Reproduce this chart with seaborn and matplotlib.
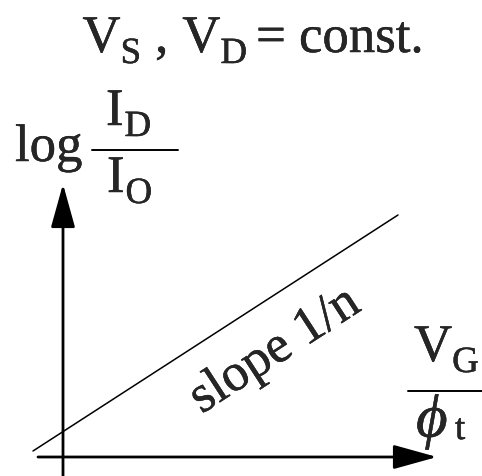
import matplotlib
matplotlib.use("Agg")
import matplotlib.pyplot as plt
import matplotlib.transforms as mtransforms
import matplotlib.patheffects as pe
import seaborn as sns
import pandas as pd

# Subthreshold characteristic: log(I_D/I_O) rises linearly with V_G/phi_t
line_x = [-30, 335]
line_y = [6, 242]

slope_text = "slope 1/n"

sns.set_theme(style="white")
plt.rcParams["font.family"] = ["Liberation Serif", "DejaVu Serif"]
plt.rcParams["mathtext.fontset"] = "custom"
plt.rcParams["mathtext.rm"] = "Liberation Serif"
plt.rcParams["mathtext.it"] = "Liberation Serif:italic"

fig = plt.figure(figsize=(4.82, 4.77), dpi=100)
ax = fig.add_axes([0, 0, 1, 1])
ax.set_xlim(-63, 419)
ax.set_ylim(-19, 458)
ax.axis("off")
renderer = fig.canvas.get_renderer()

# slightly heavier glyph strokes
heavy = [pe.withStroke(linewidth=0.3, foreground="black")]


def runs_text(x, y, runs, fs, sub_scale=0.7, sub_drop=11, ha="left"):
    """Write a label made of normal and subscript pieces.

    runs: list of (text, is_subscript, gap_before_px)."""
    items = []
    cursor = 0.0
    for s, sub, gap in runs:
        cursor += gap
        size = fs * sub_scale if sub else fs
        dy = -sub_drop if sub else 0
        t = ax.text(x, y, s, fontsize=size, ha="left", va="baseline",
                    path_effects=heavy)
        t.set_transform(mtransforms.offset_copy(ax.transData, fig=fig,
                                                x=cursor, y=dy, units="dots"))
        w = t.get_window_extent(renderer).width
        items.append((t, cursor, dy))
        cursor += w
    if ha == "center":
        shift = -cursor / 2
        for t, cx, dy in items:
            t.set_transform(mtransforms.offset_copy(ax.transData, fig=fig,
                                                    x=cx + shift, y=dy, units="dots"))
    return items


# characteristic line
df = pd.DataFrame({"x": line_x, "y": line_y})
sns.lineplot(data=df, x="x", y="y", color="black", linewidth=1.1, ax=ax)

# axes with arrow heads
arrow = dict(arrowstyle="-|>,head_length=2.7,head_width=0.75", mutation_scale=10,
             lw=2.0, color="black", fc="black", shrinkA=0, shrinkB=0)
ax.annotate("", xy=(0, 273), xytext=(0, -19), arrowprops=arrow)
ax.annotate("", xy=(374, 0), xytext=(-25, 0), arrowprops=arrow)

fs = 38

# title
runs_text(190, 405, [("V", False, 0), ("S", True, 0), (",", False, 14),
                     ("V", False, 14), ("D", True, 0), ("= const.", False, 9)],
          fs=38, ha="center")

# y-axis label: log I_D / I_O
ax.text(-48, 296, "log", fontsize=fs, ha="left", va="baseline", path_effects=heavy)
ax.plot([29, 115], [307, 307], color="black", lw=1.4)
runs_text(43, 332, [("I", False, 0), ("D", True, 1)], fs=fs)
runs_text(44, 265, [("I", False, 0), ("O", True, 1)], fs=fs)

# x-axis label: V_G / phi_t
runs_text(351, 96, [("V", False, 0), ("G", True, 0)], fs=fs)
ax.plot([345, 419], [66, 66], color="black", lw=1.4)
ax.text(353, 20, r"$\phi$", fontsize=44, ha="left", va="baseline", path_effects=heavy)
ax.text(392, 18, "t", fontsize=fs * 0.7, ha="left", va="baseline", path_effects=heavy)

# slope annotation
ax.text(212, 106, slope_text, fontsize=fs, rotation=33, rotation_mode="anchor",
        ha="center", va="center", path_effects=heavy)

fig.savefig("out.png", dpi=100, facecolor="white")
